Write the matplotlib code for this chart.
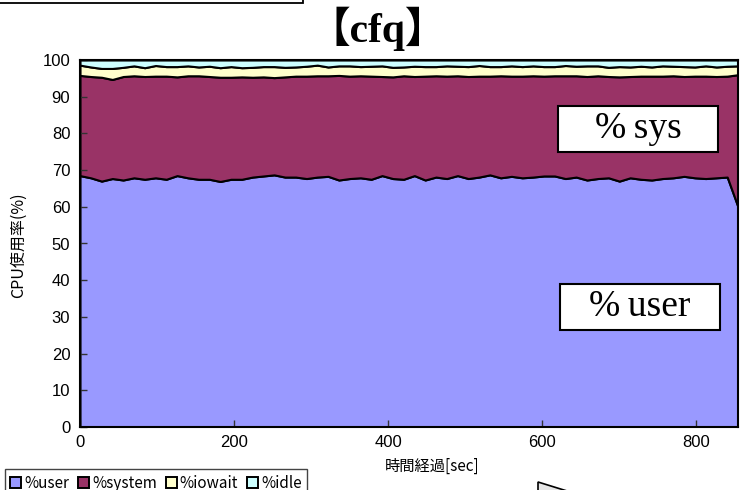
import numpy as np
import matplotlib
matplotlib.use("Agg")
import matplotlib.pyplot as plt
from matplotlib.patches import Patch, Rectangle, Polygon

plt.rcParams['font.family'] = ['Noto Sans CJK JP', 'DejaVu Sans']

# sar samples, seconds from start
t_sec = np.arange(0, 855, 14)

user = [68.5, 67.9, 67.0, 67.7, 67.3, 67.9, 67.5, 67.9, 67.5, 68.5,
        67.9, 67.5, 67.5, 66.9, 67.5, 67.5, 68.1, 68.4, 68.7, 68.1,
        68.1, 67.7, 68.1, 68.3, 67.3, 67.7, 67.9, 67.5, 68.5, 67.7,
        67.5, 68.5,
        67.3, 68.1, 67.7, 68.5, 67.7, 68.1, 68.7, 67.9, 68.3, 67.9,
        68.1, 68.4, 68.4, 67.7, 68.1, 67.3, 67.7, 67.9, 67.0, 67.9,
        67.5, 67.3, 67.7, 67.9, 68.3, 67.9, 67.7, 67.9, 68.1,
        60.0]
system = [27.3, 27.6, 28.3, 27.0, 28.2, 27.8, 28.0, 27.7, 28.1, 26.9,
          27.8, 28.2, 28.0, 28.4, 27.8, 27.9, 27.2, 27.0, 26.5, 27.3,
          27.5, 27.9, 27.6, 27.4, 28.5, 27.9, 27.8, 28.1, 27.0, 27.7,
          28.2, 27.0,
          28.3, 27.6, 27.9, 27.2, 27.8, 27.5, 26.9, 27.8, 27.3, 27.7,
          27.6, 27.2, 27.3, 28.0, 27.6, 28.2, 28.0, 27.6, 28.4, 27.6,
          28.1, 28.3, 27.9, 27.8, 27.2, 27.7, 27.9, 27.6, 27.5,
          36.0]
iowait = [2.8, 2.6, 2.4, 3.0, 2.5, 2.7, 2.4, 2.9, 2.6, 2.8,
          2.7, 2.4, 2.8, 2.6, 2.9, 2.5, 2.7, 2.8, 3.0, 2.6,
          2.5, 2.7, 2.9, 2.4, 2.6, 2.8, 2.5, 2.7, 2.9, 2.6,
          2.4, 2.8,
          2.6, 2.5, 2.8, 2.6, 2.7, 2.9, 2.6, 2.5, 2.8, 2.6,
          2.7, 2.6, 2.5, 2.8, 2.6, 2.9, 2.7, 2.5, 2.8, 2.6,
          2.7, 2.5, 2.8, 2.6, 2.7, 2.5, 2.8, 2.6, 2.7,
          2.4]
idle = [1.4, 1.9, 2.3, 2.3, 2.0, 1.6, 2.1, 1.5, 1.8, 1.8,
        1.6, 1.9, 1.7, 2.1, 1.8, 2.1, 2.0, 1.8, 1.8, 2.0,
        1.9, 1.7, 1.4, 1.9, 1.6, 1.6, 1.8, 1.7, 1.6, 2.0,
        1.9, 1.7,
        1.8, 1.8, 1.6, 1.7, 1.8, 1.5, 1.8, 1.8, 1.6, 1.8,
        1.6, 1.8, 1.8, 1.5, 1.7, 1.6, 1.6, 2.0, 1.8, 1.9,
        1.7, 1.9, 1.6, 1.7, 1.8, 1.9, 1.6, 1.9, 1.7,
        1.6]

labels = ["%user", "%system", "%iowait", "%idle"]
colors = ["#9999FF", "#993366", "#FFFFCC", "#CCFFFF"]

W, H = 740, 490
fig = plt.figure(figsize=(W / 100, H / 100), dpi=100)
ax = fig.add_axes([80 / W, 1 - 427 / H, 658 / W, 367 / H])

ax.stackplot(t_sec, user, system, iowait, idle, colors=colors,
             edgecolor="black", linewidth=1.5)
ax.set_xlim(0, t_sec[-1])
ax.set_ylim(0, 100)
ax.set_xticks([0, 200, 400, 600, 800])
ax.set_yticks(range(0, 101, 10))
ax.set_axisbelow(False)
ax.tick_params(direction="in", length=5, width=1, color="#333333")
ax.tick_params(axis="y", pad=7)
ax.tick_params(axis="x", pad=6)
for lab in ax.get_xticklabels() + ax.get_yticklabels():
    lab.set_family("Liberation Sans")
    lab.set_fontsize(12)
for s in ax.spines.values():
    s.set_linewidth(1.5)
    s.set_color("black")
    s.set_zorder(5)

fig.text(18 / W, 0.5, "CPU使用率(%)", rotation=90, ha="center", va="center",
         fontsize=11.5)
fig.text(432 / W, 1 - 466 / H, "時間経過[sec]", ha="center", va="center",
         fontsize=11)

fig.text(378 / W, 1 - 29 / H, "【cfq】", ha="center", va="center",
         fontsize=30, fontweight="bold",
         family=["Liberation Serif", "Noto Sans CJK JP"])

# label boxes inside the plot
for (x0, y0, x1, y1), txt in [((558, 106, 718, 152), "%\u2009sys"),
                              ((560, 284, 720, 330), "%\u2009user")]:
    fig.add_artist(Rectangle((x0 / W, 1 - y1 / H), (x1 - x0) / W,
                             (y1 - y0) / H, transform=fig.transFigure,
                             facecolor="white", edgecolor="black",
                             linewidth=1.5, zorder=10))
    fig.text((x0 + x1) / 2 / W, 1 - (y0 + y1) / 2 / H, txt,
             ha="center", va="center", fontsize=27,
             family="Liberation Serif", zorder=11)

handles = [Patch(facecolor=c, edgecolor="black", linewidth=1.4)
           for c in colors]
leg = fig.legend(handles, labels, loc="lower left", ncol=4,
                 bbox_to_anchor=(5 / W, -0.014), fontsize=11,
                 handlelength=0.7, handleheight=0.7, handletextpad=0.2,
                 columnspacing=0.6, borderpad=0.35, borderaxespad=0,
                 fancybox=False, framealpha=1)
leg.get_frame().set_edgecolor("#444444")
leg.get_frame().set_linewidth(1.0)

# clipped shapes at the edges of the original sheet
fig.add_artist(Rectangle((-0.01, 1 - 3 / H), 303 / W + 0.01, 0.05,
                         transform=fig.transFigure, fill=False,
                         edgecolor="black", linewidth=1.3))
fig.add_artist(Polygon([(538 / W, 1 - 482 / H), (580 / W, 1 - 495 / H),
                        (538 / W, 1 - 495 / H)], closed=True,
                       transform=fig.transFigure, facecolor="#E6E6E6",
                       edgecolor="black", linewidth=1.2))

fig.savefig("out.png", dpi=100, facecolor="white")
